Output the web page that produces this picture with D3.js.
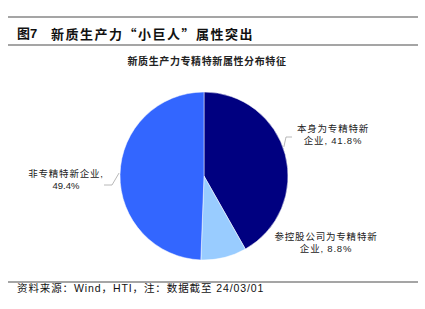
<!DOCTYPE html>
<html lang="zh">
<head>
<meta charset="UTF-8">
<title>新质生产力专精特新属性分布特征</title>
<script src="https://d3js.org/d3.v7.min.js"></script>
<style>
  body { margin: 0; background: #fff; }
  svg { display: block; font-family: "Liberation Sans", "Noto Sans CJK SC", sans-serif; }
</style>
</head>
<body>
<div id="chart"></div>
<script>
const categories = ["本身为专精特新企业", "参控股公司为专精特新企业", "非专精特新企业"];
const shares = [41.8, 8.8, 49.4];
const sliceColors = ["#000080", "#99CCFF", "#3366FF"];

const width = 425, height = 309;
const cx = 204, cy = 176, radius = 84;

// label layout: where the text sits and where the category text is split
const labelLayout = [
  { x: 333, y: 128, split: 7, leader: { angle: 70, elbow: [286, 137], end: [292, 137] } },
  { x: 326, y: 236, split: 10, leader: null },
  { x: 66, y: 173, split: 8, leader: { angle: 272, elbow: [112, 185], end: [104, 185] } }
];

const svg = d3.select("#chart").append("svg")
  .attr("width", width)
  .attr("height", height);

// header rules + title
svg.selectAll(".rule")
  .data([17, 45, 282])
  .enter().append("line")
  .attr("x1", 8).attr("x2", 418)
  .attr("y1", d => d).attr("y2", d => d)
  .attr("stroke", "#4d4d4d")
  .attr("stroke-width", 1.2);

const title = svg.append("text")
  .attr("y", 33)
  .attr("dominant-baseline", "central")
  .style("font-size", "13px")
  .style("font-weight", "bold")
  .attr("fill", "#111");
title.append("tspan").attr("x", 17).text("图7");
title.append("tspan").attr("x", 51).style("letter-spacing", "1.5px")
  .style("font-family", "'Noto Sans CJK SC'")
  .text("新质生产力“小巨人”属性突出");

svg.append("text")
  .attr("x", 207).attr("y", 61)
  .attr("text-anchor", "middle")
  .attr("dominant-baseline", "central")
  .style("font-size", "10px")
  .style("font-weight", "bold")
  .style("letter-spacing", "0.6px")
  .attr("fill", "#222")
  .text("新质生产力专精特新属性分布特征");

// pie
const pie = d3.pie().sort(null).value(d => d);
const arc = d3.arc().innerRadius(0).outerRadius(radius);
const arcs = pie(shares);

const g = svg.append("g").attr("transform", `translate(${cx},${cy})`);
g.selectAll("path")
  .data(arcs)
  .enter().append("path")
  .attr("d", arc)
  .attr("fill", (d, i) => sliceColors[i])
  .attr("stroke", "#fff")
  .attr("stroke-width", 0.5);

// leader lines
const polar = (deg, r) => {
  const a = deg * Math.PI / 180;
  return [cx + r * Math.sin(a), cy - r * Math.cos(a)];
};
labelLayout.forEach(l => {
  if (!l.leader) return;
  const pts = [polar(l.leader.angle, radius + 1), l.leader.elbow, l.leader.end];
  svg.append("path")
    .attr("d", d3.line()(pts))
    .attr("fill", "none")
    .attr("stroke", "#a6a6a6")
    .attr("stroke-width", 0.8);
});

// labels
categories.forEach((c, i) => {
  const l = labelLayout[i];
  const full = c + ", " + shares[i].toFixed(1) + "%";
  const lines = [full.slice(0, l.split), full.slice(l.split).trim()];
  const t = svg.append("text")
    .attr("text-anchor", "middle")
    .attr("fill", "#222")
    .style("font-size", "9.5px");
  lines.forEach((s, k) => {
    t.append("tspan")
      .attr("x", l.x)
      .attr("y", l.y + k * 12.5)
      .attr("dominant-baseline", "central")
      .style("letter-spacing", /[0-9]/.test(s) && !/[\u4e00-\u9fff]/.test(s) ? "0px" : "0.8px")
      .text(s);
  });
});

// footer
svg.append("text")
  .attr("x", 17).attr("y", 288)
  .attr("dominant-baseline", "central")
  .style("font-size", "10.5px")
  .style("letter-spacing", "0.9px")
  .attr("fill", "#111")
  .text("资料来源：Wind，HTI，注：数据截至 24/03/01");
</script>
</body>
</html>
